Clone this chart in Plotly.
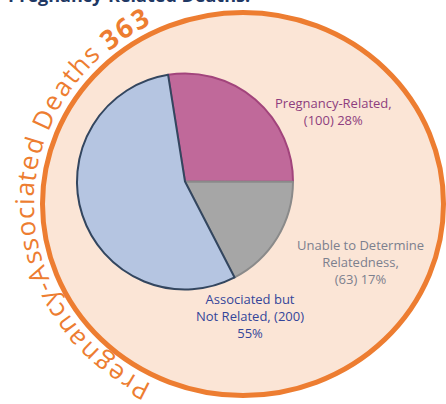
import numpy as np
import plotly.graph_objects as go

# ---- data ----
categories = ["Pregnancy-Related", "Unable to Determine Relatedness", "Associated but Not Related"]
values = [100, 63, 200]
total_deaths = 363
outer_label = "Pregnancy-Associated Deaths"
title_text = "Pregnancy-Related Deaths."

W, H = 446, 404
def px(x): return x / W
def py(y): return 1 - y / H

pct = [round(v / total_deaths * 100) for v in values]
slice_fill = ["#c0699a", "#a6a6a6", "#b5c5e1"]
slice_line = ["#a2447c", "#8a8a8a", "#33465f"]

fig = go.Figure()
fig.add_trace(go.Pie(
    labels=categories, values=values, sort=False, direction="clockwise",
    rotation=-9, textinfo="none", hoverinfo="skip", showlegend=False,
    marker=dict(colors=slice_fill, line=dict(color=slice_line, width=2)),
    domain=dict(x=[px(77), px(293)], y=[py(290), py(73)]),
))

shapes = [dict(type="circle", xref="paper", yref="paper",
               x0=px(42.5), x1=px(443.5), y0=py(395.5), y1=py(12.5),
               fillcolor="#fbe5d6", line=dict(color="#ed7d31", width=5), layer="below")]

annotations = []
lab_font = "Open Sans, Arial"
def lab(x, y, text, color):
    annotations.append(dict(x=px(x), y=py(y), xref="paper", yref="paper", showarrow=False,
        xanchor="center", yanchor="middle", text=text, align="center",
        font=dict(family=lab_font, size=13, color=color)))

lab(333, 111.5, f"{categories[0]},<br>({values[0]}) {pct[0]}%", "#8e3e7e")
lab(360, 262, f"Unable to Determine<br>Relatedness,<br>({values[1]}) {pct[1]}%", "#7c808e")
lab(250, 316, f"Associated but<br>Not Related, ({values[2]})<br>{pct[2]}%", "#34459a")

# title (cut off at top in reference)
annotations.append(dict(x=px(6), y=py(9), xref="paper", yref="paper", showarrow=False,
    xanchor="left", yanchor="bottom", text=f"<b>{title_text}</b>",
    font=dict(family="Open Sans, Arial", size=18, color="#1f3864")))

# curved text along outer ring
curve_text = outer_label + " " + str(total_deaths)
bold_from = len(outer_label) + 1
wid = {' ': .26, 'P': .60, 'r': .41, 'e': .56, 'g': .55, 'n': .62, 'a': .56, 'c': .48,
       'y': .50, '-': .32, 'A': .63, 's': .47, 'o': .60, 'i': .26, 't': .35, 'd': .62,
       'D': .73, 'h': .62, '3': .60, '6': .60}
cx, cy = 243, 204
rxt, ryt = 219, 210
th_start, th_mid3 = np.radians(208), np.radians(327)
ths = np.linspace(th_start, np.radians(360), 4000)
xs = cx + rxt * np.sin(ths)
ys = cy - ryt * np.cos(ths)
cum = np.concatenate([[0], np.cumsum(np.hypot(np.diff(xs), np.diff(ys)))])
arc_target = np.interp(th_mid3, ths, cum)
w = np.array([wid.get(c, .55) for c in curve_text])
centers = np.cumsum(w) - w / 2
scale = arc_target / (centers[-2] - centers[0])
arc_pos = (centers - centers[0]) * scale
for i, ch in enumerate(curve_text):
    if ch == " ":
        continue
    th = np.interp(arc_pos[i], cum, ths)
    x = cx + rxt * np.sin(th)
    y = cy - ryt * np.cos(th)
    ang = np.degrees(np.arctan2(np.sin(th) / rxt, np.cos(th) / ryt))
    ang = (ang + 180) % 360 - 180
    bold = i >= bold_from
    annotations.append(dict(x=px(x), y=py(y), xref="paper", yref="paper", showarrow=False,
        xanchor="center", yanchor="middle", text=f"<b>{ch}</b>" if bold else ch, textangle=ang,
        font=dict(family="Open Sans, Arial", size=27 if bold else 26, color="#ed7d31")))

fig.update_layout(width=W, height=H, margin=dict(l=0, r=0, t=0, b=0),
                  paper_bgcolor="white", plot_bgcolor="white",
                  shapes=shapes, annotations=annotations)
fig.write_html("out.html", config={"displayModeBar": False, "staticPlot": True},
               post_script="document.body.style.margin='0';document.body.style.overflow='hidden';")
